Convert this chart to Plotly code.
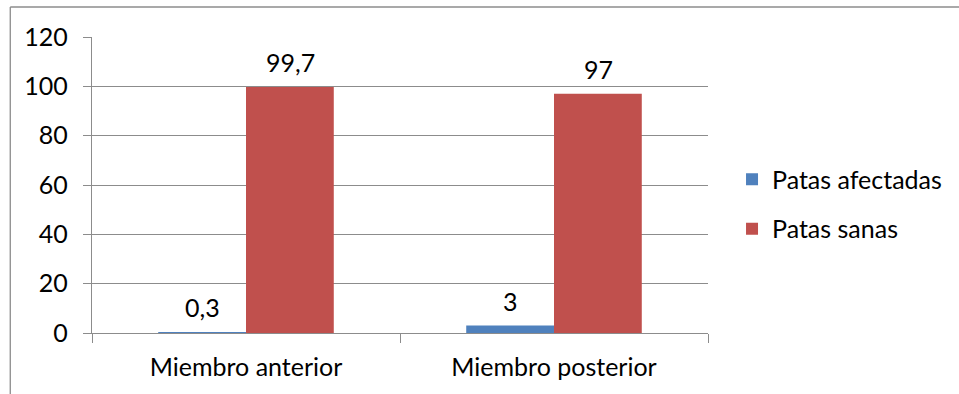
import plotly.graph_objects as go

categories = ["Miembro anterior", "Miembro posterior"]
afectadas = [0.3, 3]
sanas = [99.7, 97]
series_names = ["Patas afectadas", "Patas sanas"]
series_colors = ["#4F81BD", "#C0504D"]
y_ticks = [0, 20, 40, 60, 80, 100, 120]

FONT = "Lato"
FS = 25
GRID = "#8C8C8C"

W, H = 959, 394
ML, MR, MT, MB = 92, 249, 37, 61

fig = go.Figure()
for name, vals, col in zip(series_names, [afectadas, sanas], series_colors):
    fig.add_trace(go.Bar(
        x=categories, y=vals, name=name, marker=dict(color=col, line=dict(width=0)),
        legendgroup=name,
    ))

# value labels above each bar
def fmt(v):
    return f"{v:g}".replace(".", ",")

bar_px = 88
for offs, vals in zip([-bar_px / 2, bar_px / 2], [afectadas, sanas]):
    for c, v in zip(categories, vals):
        fig.add_annotation(x=c, y=v, text=fmt(v), showarrow=False, xref="x", yref="y",
                           xshift=offs, yshift=25, yanchor="middle",
                           font=dict(family=FONT, size=FS, color="#000000"))

# thin outer frame lines (top and left)
pw, ph = W - ML - MR, H - MT - MB
def px_x(p):
    return (p - ML) / pw
def px_y(p):
    return (H - MB - p) / ph
fig.add_shape(type="line", xref="paper", yref="paper", x0=px_x(10), x1=px_x(W + 5),
              y0=px_y(7), y1=px_y(7), line=dict(color="#8C8C8C", width=1.3))
fig.add_shape(type="line", xref="paper", yref="paper", x0=px_x(10), x1=px_x(10),
              y0=px_y(7), y1=px_y(H + 5), line=dict(color="#8C8C8C", width=1.3))

fig.update_layout(
    width=W, height=H,
    margin=dict(l=ML, r=MR, t=MT, b=MB, pad=0),
    paper_bgcolor="white", plot_bgcolor="white",
    barmode="group", bargap=0.43, bargroupgap=0,
    font=dict(family=FONT, size=FS, color="#000000"),
    legend=dict(x=0.039, xanchor="left", y=0.436, yanchor="middle",
                xref="paper", font=dict(family=FONT, size=FS), traceorder="grouped",
                tracegroupgap=14, itemwidth=30),
    showlegend=True,
)
# legend x measured from the right edge of the plot area
fig.update_layout(legend_x=1.039)
fig.update_xaxes(
    showline=True, linecolor=GRID, linewidth=1.3,
    ticks="outside", tickson="boundaries", ticklen=9, tickcolor=GRID, tickwidth=1.3,
    showgrid=False, ticklabelstandoff=12,
)
fig.update_yaxes(
    range=[0, 120], tickvals=y_ticks, showline=True, linecolor=GRID, linewidth=1.3,
    ticks="outside", ticklen=8, tickcolor=GRID, tickwidth=1.3,
    showgrid=True, gridcolor=GRID, gridwidth=1.3, zeroline=False,
    ticklabelstandoff=10,
)

fig.write_html("out.html")
